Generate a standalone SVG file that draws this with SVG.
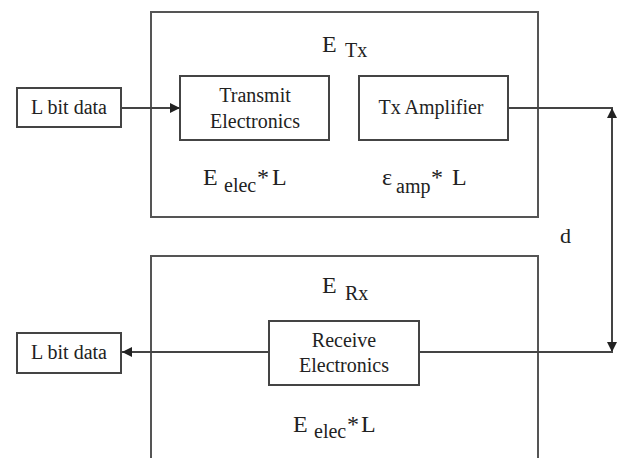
<svg xmlns="http://www.w3.org/2000/svg" width="619" height="458" viewBox="0 0 619 458">
  <style>
    .frame { fill: #ffffff; stroke: #555555; stroke-width: 2; }
    .box { fill: #ffffff; stroke: #444444; stroke-width: 2; }
    .wire { fill: none; stroke: #444444; stroke-width: 2; }
    .t { font-family: 'Liberation Serif', 'DejaVu Serif', Times, serif; fill: #222222; }
    .lbl { font-size: 20px; text-anchor: middle; }
    .big { font-size: 24px; }
    .sub { font-size: 20px; }
  </style>
  <defs>
    <marker id="arrow" viewBox="0 0 10 10" refX="10" refY="5" markerWidth="10" markerHeight="10" markerUnits="userSpaceOnUse" orient="auto-start-reverse">
      <path d="M0,0 L10,5 L0,10 z" fill="#222222"/>
    </marker>
  </defs>
  <rect width="619" height="458" fill="#ffffff"/>

  <!-- transmitter -->
  <g id="tx-frame">
    <rect class="frame" x="151" y="12" width="387" height="205"/>
    <text class="t big" x="322" y="52" font-size="25">E<tspan class="sub" x="345" dy="5">Tx</tspan></text>
    <text class="t big" x="203" y="185">E<tspan class="sub" x="224" dy="7">elec</tspan><tspan x="257" dy="-7">*</tspan><tspan x="272">L</tspan></text>
    <text class="t big" x="382" y="185">ε<tspan class="sub" x="396" dy="8">amp</tspan><tspan x="431" dy="-8">*</tspan><tspan x="452">L</tspan></text>
  </g>

  <!-- receiver -->
  <g id="rx-frame">
    <rect class="frame" x="151" y="256" width="387" height="220"/>
    <text class="t big" x="322" y="293">E<tspan class="sub" x="345" dy="7">Rx</tspan></text>
    <text class="t big" x="293" y="432">E<tspan class="sub" x="314" dy="6">elec</tspan><tspan x="347" dy="-6">*</tspan><tspan x="361">L</tspan></text>
  </g>

  <g id="tx-input">
    <rect class="box" x="17" y="88" width="104" height="39"/>
    <text class="t lbl" x="69" y="114">L bit data</text>
  </g>

  <g id="transmit-electronics">
    <rect class="box" x="180" y="76" width="149" height="64"/>
    <text class="t lbl" x="255" y="102">Transmit</text>
    <text class="t lbl" x="255" y="128">Electronics</text>
  </g>

  <g id="tx-amplifier">
    <rect class="box" x="359" y="76" width="149" height="64"/>
    <text class="t lbl" x="431" y="114">Tx Amplifier</text>
  </g>

  <g id="receive-electronics">
    <rect class="box" x="269" y="321" width="150" height="64"/>
    <text class="t lbl" x="344" y="347">Receive</text>
    <text class="t lbl" x="344" y="372">Electronics</text>
  </g>

  <g id="rx-output">
    <rect class="box" x="17" y="333" width="104" height="40"/>
    <text class="t lbl" x="69" y="359">L bit data</text>
  </g>

  <g id="connectors">
    <line class="wire" x1="121" y1="108" x2="180" y2="108" marker-end="url(#arrow)"/>
    <line class="wire" x1="508" y1="108" x2="613" y2="108"/>
    <line class="wire" x1="612" y1="108" x2="612" y2="352" marker-start="url(#arrow)" marker-end="url(#arrow)"/>
    <line class="wire" x1="613" y1="352" x2="419" y2="352"/>
    <line class="wire" x1="269" y1="352" x2="122" y2="352" marker-end="url(#arrow)"/>
  </g>

  <!-- distance label -->
  <text class="t" x="560" y="243" font-size="22">d</text>
</svg>
